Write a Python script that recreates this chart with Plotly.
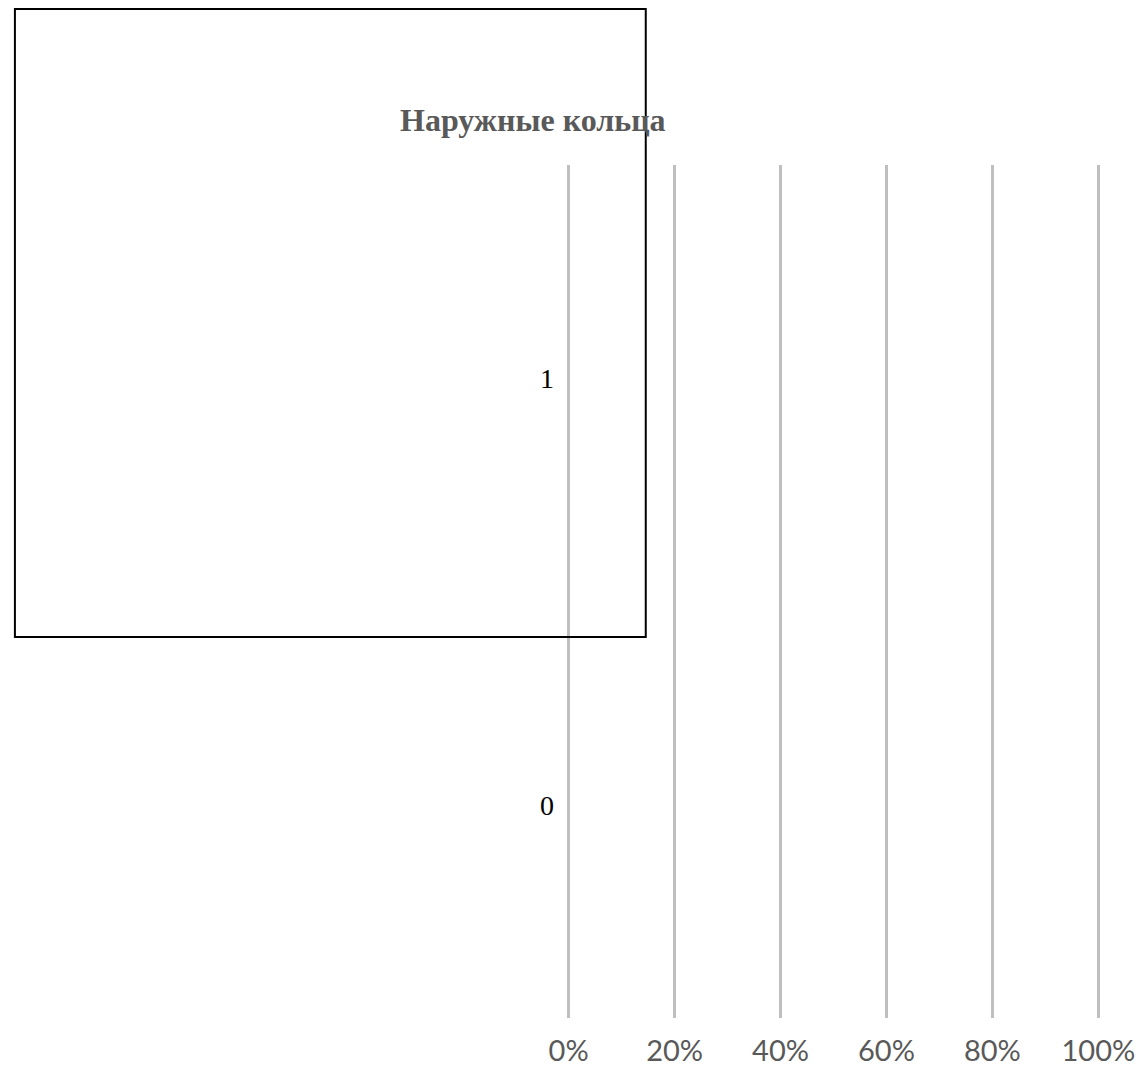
import plotly.graph_objects as go

# Data
categories = ["0", "1"]
series_names = ["Наружные кольца"]
series_values = [[0, 0]]
x_tick_values = [0, 20, 40, 60, 80, 100]
x_tick_labels = ["0%", "20%", "40%", "60%", "80%", "100%"]
title_text = "Наружные кольца"

W, H = 1139, 1067
X0, X100 = 569, 1098                      # pixel positions of 0% and 100%
YT, YB = 165, 1018                        # plot area top/bottom
pad_u = 0.5                               # range padding (units) so end gridlines show
upx = (X100 - X0) / 100.0
L = X0 - pad_u * upx
Rpx = X100 + pad_u * upx
T, B = YT, H - YB
pw, ph = Rpx - L, YB - YT

def px_x(p):
    return (p - L) / pw

def px_y(p):
    return (YB - p) / ph

fig = go.Figure()
for name, vals in zip(series_names, series_values):
    fig.add_trace(go.Bar(y=categories, x=vals, orientation="h", name=name,
                         marker=dict(color="#4472C4", line=dict(width=0)),
                         showlegend=False, hoverinfo="skip"))

fig.update_layout(
    width=W, height=H,
    margin=dict(l=L, r=W - Rpx, t=T, b=B, pad=0, autoexpand=False),
    paper_bgcolor="white", plot_bgcolor="white",
    barmode="stack",
    xaxis=dict(range=[-pad_u, 100 + pad_u], tickvals=x_tick_values, ticktext=x_tick_labels,
               showgrid=True, gridcolor="#BFBFBF", gridwidth=3,
               zeroline=False, showline=False, ticks="", automargin=False,
               ticklabelstandoff=13, ticklabeloverflow="allow",
               tickfont=dict(family="Lato", size=29, color="#595959")),
    yaxis=dict(type="category", categoryorder="array", categoryarray=categories,
               range=[-0.5, 1.5], showgrid=False, zeroline=False, showline=False,
               ticks="", ticklabelstandoff=11, automargin=False,
               tickfont=dict(family="Liberation Serif", size=28, color="black")),
    annotations=[dict(text="<b>" + title_text + "</b>", xref="paper", yref="paper",
                      x=px_x(533), y=px_y(120), xanchor="center", yanchor="middle",
                      showarrow=False,
                      font=dict(family="Liberation Serif", size=32, color="#595959"))],
    shapes=[dict(type="rect", xref="paper", yref="paper",
                 x0=px_x(16), x1=px_x(646), y0=px_y(9), y1=px_y(637),
                 line=dict(color="black", width=2), fillcolor="rgba(0,0,0,0)",
                 layer="above")],
)

fig.write_html(
    "out.html",
    config={"displayModeBar": False},
    post_script="document.body.style.margin='0';document.body.style.overflow='hidden';",
)
